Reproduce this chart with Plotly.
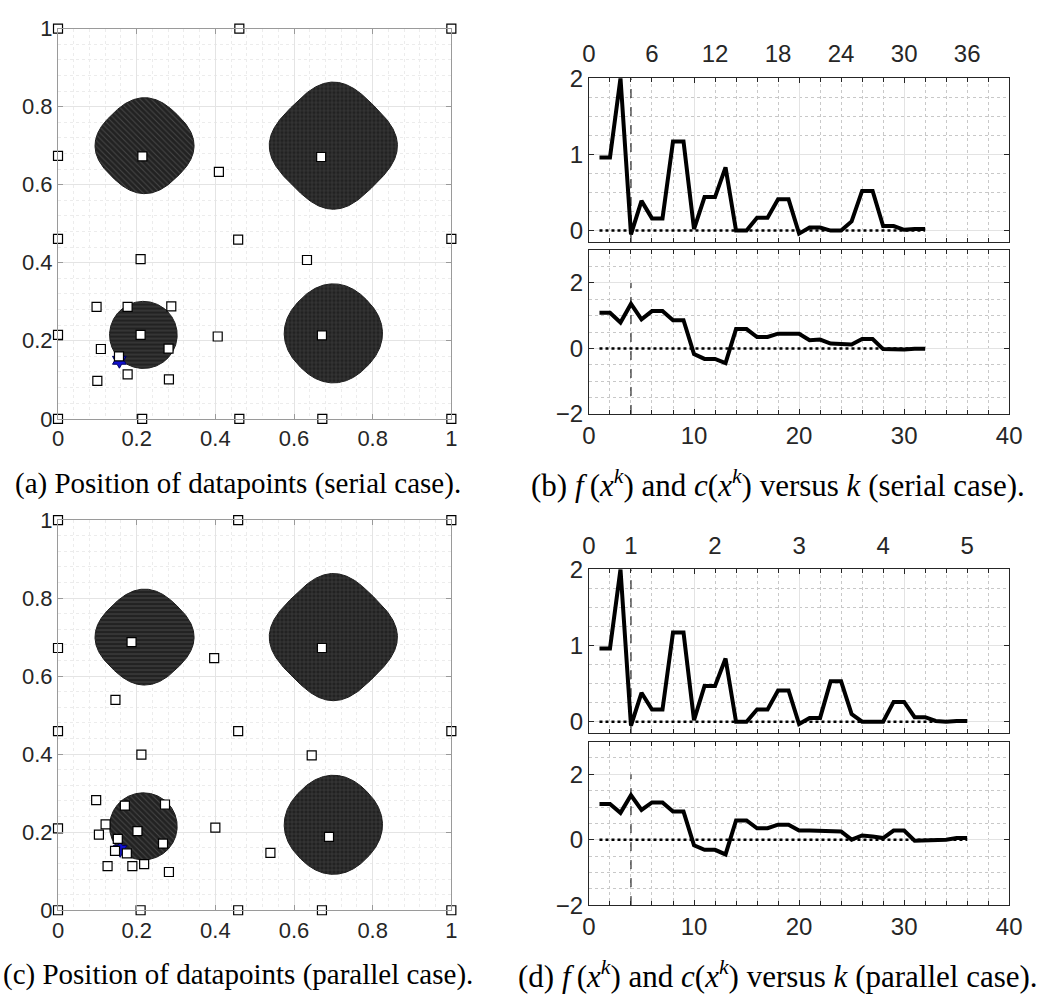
import numpy as np
import plotly.graph_objects as go

# ---------------- data ----------------
k_serial = list(range(1, 33))
f_serial = [0.96, 0.96, 2.0, -0.05, 0.39, 0.16, 0.16, 1.17, 1.17, 0.02, 0.44, 0.44, 0.83,
            0.0, 0.0, 0.17, 0.17, 0.41, 0.41, -0.04, 0.04, 0.04, 0.0, 0.0, 0.12, 0.52, 0.52,
            0.06, 0.06, 0.01, 0.02, 0.02]
c_serial = [1.09, 1.09, 0.79, 1.36, 0.89, 1.14, 1.14, 0.86, 0.86, -0.17, -0.32, -0.32, -0.45,
            0.59, 0.59, 0.35, 0.35, 0.45, 0.45, 0.45, 0.25, 0.27, 0.15, 0.13, 0.12, 0.29, 0.29,
            -0.02, -0.04, -0.03, -0.01, -0.01]

k_parallel = list(range(1, 37))
f_parallel = [0.96, 0.96, 2.0, -0.05, 0.38, 0.16, 0.16, 1.17, 1.17, 0.02, 0.47, 0.47, 0.83,
              0.0, 0.0, 0.16, 0.16, 0.41, 0.41, -0.03, 0.05, 0.05, 0.53, 0.53, 0.10, 0.0, 0.0,
              0.0, 0.26, 0.26, 0.06, 0.06, 0.01, 0.0, 0.01, 0.01]
c_parallel = [1.09, 1.09, 0.82, 1.36, 0.91, 1.14, 1.14, 0.86, 0.86, -0.17, -0.31, -0.31, -0.45,
              0.59, 0.59, 0.35, 0.35, 0.46, 0.46, 0.28, 0.28, 0.28, 0.25, 0.25, 0.0, 0.13, 0.10,
              0.05, 0.28, 0.28, -0.03, -0.03, -0.03, 0.0, 0.05, 0.05]

k_switch = 4  # dashed vertical line

top_ticks_serial = [0, 6, 12, 18, 24, 30, 36]
top_labels_serial = ["0", "6", "12", "18", "24", "30", "36"]
top_ticks_parallel = [0, 4, 12, 20, 28, 36]
top_labels_parallel = ["0", "1", "2", "3", "4", "5"]

serial_x = [0, 0.461, 1, 0, 0, 1, 0, 0, 0.214, 0.461, 0.672, 1,
            0.2145, 0.669, 0.409, 0.458, 0.210, 0.633, 0.098, 0.177, 0.288, 0.210, 0.406,
            0.671, 0.109, 0.281, 0.155, 0.177, 0.100, 0.282]
serial_y = [1, 1, 1, 0.674, 0.461, 0.461, 0.215, 0, 0, 0, 0, 0,
            0.6725, 0.671, 0.633, 0.459, 0.409, 0.407, 0.287, 0.287, 0.288, 0.215, 0.211,
            0.214, 0.179, 0.180, 0.160, 0.114, 0.097, 0.101]
serial_best = ([0.156], [0.150])

parallel_x = [0, 0.458, 1, 0, 0, 0.458, 1, 0, 0, 0.210, 0.458, 0.671, 1,
              0.187, 0.671, 0.397, 0.146, 0.212, 0.645, 0.097, 0.170, 0.272, 0.121, 0.400,
              0.104, 0.202, 0.152, 0.267, 0.145, 0.175, 0.540, 0.689, 0.126, 0.189, 0.219, 0.282]
parallel_y = [1, 1, 1, 0.672, 0.459, 0.459, 0.459, 0.210, 0, 0, 0, 0, 0,
              0.687, 0.672, 0.646, 0.539, 0.399, 0.397, 0.282, 0.268, 0.271, 0.220, 0.212,
              0.194, 0.203, 0.183, 0.171, 0.152, 0.146, 0.147, 0.188, 0.113, 0.113, 0.118, 0.098]
parallel_best = ([0.158], [0.156])

# infeasible regions (rounded diamonds = rotated superellipses)
shape_cx = [0.220, 0.700, 0.217, 0.700]
shape_cy = [0.700, 0.700, 0.215, 0.219]
shape_rx = [0.126, 0.163, 0.086, 0.125]
shape_ry = [0.123, 0.163, 0.086, 0.127]
shape_q = [2.6, 3.0, 2.0, 2.3]
patterns_a = ["\\", "+", "-", "+"]
patterns_c = ["-", "+", "\\", "+"]

# ---------------- layout helpers ----------------
W, H = 1047, 1005
def dx(a, b):
    return [a / W, b / W]
def dy(top, bot):
    return [1 - bot / H, 1 - top / H]

LEFTFONT = dict(family="Liberation Sans, Arial, Helvetica", size=22, color="#262626")
RIGHTFONT = dict(family="Liberation Sans, Arial, Helvetica", size=24, color="#262626")
DARK = "#262626"

fig = go.Figure()

# ---------------- left panels ----------------
t = np.linspace(0, 2 * np.pi, 600)

def add_point_panel(xa, ya, px, py, best, patterns):
    for cx, cy, rx, ry, q, pat in zip(shape_cx, shape_cy, shape_rx, shape_ry, shape_q, patterns):
        a = 1.0 / 2 ** (0.5 - 1.0 / q)
        c, s = np.cos(t), np.sin(t)
        u = a * np.sign(c) * np.abs(c) ** (2 / q)
        v = a * np.sign(s) * np.abs(s) ** (2 / q)
        xs = cx + rx * (u + v) / np.sqrt(2)
        ys = cy + ry * (u - v) / np.sqrt(2)
        fig.add_trace(go.Scatter(
            x=xs, y=ys, mode="lines", fill="toself",
            line=dict(color="#1e1e1e", width=1),
            fillcolor="#222222",
            fillpattern=dict(shape=pat, fgcolor="#474747", bgcolor="#222222",
                             size=4, solidity=0.25, fillmode="replace"),
            xaxis=xa, yaxis=ya, showlegend=False, hoverinfo="skip"))
    fig.add_trace(go.Scatter(
        x=best[0], y=best[1], mode="markers",
        marker=dict(symbol="hexagram", size=12, color="#1010d0",
                    line=dict(color="#000060", width=1)),
        xaxis=xa, yaxis=ya, showlegend=False, cliponaxis=False))
    fig.add_trace(go.Scatter(
        x=px, y=py, mode="markers",
        marker=dict(symbol="square", size=9, color="white",
                    line=dict(color="black", width=1.2)),
        xaxis=xa, yaxis=ya, showlegend=False, cliponaxis=False))

add_point_panel("x", "y", serial_x, serial_y, serial_best, patterns_a)
add_point_panel("x5", "y5", parallel_x, parallel_y, parallel_best, patterns_c)

def left_axis(domain, anchor):
    return dict(domain=domain, anchor=anchor, range=[0, 1], dtick=0.2, tick0=0,
                showline=True, linecolor="#9a9a9a", linewidth=1, mirror="ticks",
                ticks="inside", ticklen=5, tickcolor="#9a9a9a",
                showgrid=True, gridcolor="#e4e4e4", gridwidth=1, zeroline=False,
                tickfont=LEFTFONT,
                minor=dict(dtick=0.04, tick0=0, showgrid=True, gridcolor="#ececec",
                           griddash="dot", gridwidth=1, ticks=""))

# ---------------- right panels ----------------
TOP_RANGE = [-0.15, 2]
BOT_RANGE = [-2, 3]

def add_series_panel(xt, yt, xo, xb, yb, k, f, c):
    lw = 4
    fig.add_trace(go.Scatter(x=[k[0], k[-1]], y=[0, 0], mode="lines",
                             line=dict(color="black", width=2.5, dash="dot"),
                             xaxis=xt, yaxis=yt, showlegend=False, hoverinfo="skip"))
    fig.add_trace(go.Scatter(x=[k[0], k[-1]], y=[0, 0], mode="lines",
                             line=dict(color="black", width=2.5, dash="dot"),
                             xaxis=xb, yaxis=yb, showlegend=False, hoverinfo="skip"))
    fig.add_trace(go.Scatter(x=[k_switch, k_switch], y=[TOP_RANGE[0], TOP_RANGE[1]], mode="lines",
                             line=dict(color="black", width=1, dash="dash"),
                             xaxis=xt, yaxis=yt, showlegend=False, hoverinfo="skip"))
    fig.add_trace(go.Scatter(x=[k_switch, k_switch], y=[BOT_RANGE[0], 2], mode="lines",
                             line=dict(color="black", width=1, dash="dash"),
                             xaxis=xb, yaxis=yb, showlegend=False, hoverinfo="skip"))
    fig.add_trace(go.Scatter(x=k, y=f, mode="lines", line=dict(color="black", width=lw),
                             xaxis=xt, yaxis=yt, showlegend=False))
    fig.add_trace(go.Scatter(x=k, y=c, mode="lines", line=dict(color="black", width=lw),
                             xaxis=xb, yaxis=yb, showlegend=False))
    # invisible trace to materialize the top label axis
    fig.add_trace(go.Scatter(x=k, y=f, mode="markers", marker=dict(opacity=0),
                             xaxis=xo, yaxis=yt, showlegend=False, hoverinfo="skip"))

add_series_panel("x2", "y2", "x3", "x4", "y4", k_serial, f_serial, c_serial)
add_series_panel("x6", "y6", "x7", "x8", "y8", k_parallel, f_parallel, c_parallel)

RX = dx(593.3, 1021.7)

def right_x(anchor, labels):
    return dict(domain=RX, anchor=anchor, range=[0, 40], dtick=10, tick0=0,
                showline=True, linecolor=DARK, linewidth=1, mirror="ticks",
                ticks="inside", ticklen=5, tickcolor=DARK,
                showgrid=True, gridcolor="#e3e3e3", gridwidth=1.3, zeroline=False,
                showticklabels=labels, tickfont=RIGHTFONT,
                minor=dict(dtick=2, tick0=0, showgrid=True, gridcolor="#c8c8c8",
                           griddash="dot", gridwidth=1, ticks="inside", ticklen=4,
                           tickcolor=DARK))

def right_y(domain, anchor, rng, tickvals, minor):
    return dict(domain=domain, anchor=anchor, range=rng, tickvals=tickvals,
                showline=True, linecolor=DARK, linewidth=1, mirror="ticks",
                ticks="inside", ticklen=5, tickcolor=DARK,
                showgrid=True, gridcolor="#e3e3e3", gridwidth=1.3, zeroline=False,
                tickfont=RIGHTFONT,
                minor=dict(dtick=minor, tick0=0, showgrid=True, gridcolor="#c8c8c8",
                           griddash="dot", gridwidth=1, ticks=""))

def top_label_axis(overlay, anchor, vals, texts):
    return dict(overlaying=overlay, anchor=anchor, side="top", range=[0, 40],
                tickvals=vals, ticktext=texts, showline=False, showgrid=False,
                zeroline=False, ticks="", tickfont=RIGHTFONT, ticklabelstandoff=10)

fig.update_layout(
    width=W, height=H, margin=dict(l=0, r=0, t=0, b=0),
    paper_bgcolor="white", plot_bgcolor="white", showlegend=False,
    xaxis=left_axis(dx(52, 453), "y"),
    yaxis=left_axis(dy(15, 416), "x"),
    xaxis5=left_axis(dx(52, 453), "y5"),
    yaxis5=left_axis(dy(520, 921), "x5"),
    xaxis2=right_x("y2", False),
    yaxis2=right_y(dy(66, 234.3), "x2", TOP_RANGE, [0, 1, 2], 0.25),
    xaxis3=top_label_axis("x2", "y2", top_ticks_serial, top_labels_serial),
    xaxis4=right_x("y4", True),
    yaxis4=right_y(dy(242.7, 411), "x4", BOT_RANGE, [-2, 0, 2], 0.5),
    xaxis6=right_x("y6", False),
    yaxis6=right_y(dy(570.7, 739), "x6", TOP_RANGE, [0, 1, 2], 0.25),
    xaxis7=top_label_axis("x6", "y6", top_ticks_parallel, top_labels_parallel),
    xaxis8=right_x("y8", True),
    yaxis8=right_y(dy(747.7, 915.7), "x8", BOT_RANGE, [-2, 0, 2], 0.5),
)

CAP_A = dict(family="Liberation Serif, Times New Roman, serif", size=29, color="black")
CAP_B = dict(family="Liberation Serif, Times New Roman, serif", size=31, color="black")
captions = [
    (235, 482, "(a) Position of datapoints (serial case).", CAP_A),
    (786, 482, "(b) <i>f</i>\u2009(<i>x</i><sup><i>k</i></sup>) and <i>c</i>(<i>x</i><sup><i>k</i></sup>) versus <i>k</i> (serial case).", CAP_B),
    (235, 987, "(c) Position of datapoints (parallel case).", CAP_A),
    (786, 987, "(d) <i>f</i>\u2009(<i>x</i><sup><i>k</i></sup>) and <i>c</i>(<i>x</i><sup><i>k</i></sup>) versus <i>k</i> (parallel case).", CAP_B),
]
for cx, cy, txt, font in captions:
    fig.add_annotation(x=cx / W, y=1 - cy / H, xref="paper", yref="paper", text=txt,
                       showarrow=False, xanchor="center", yanchor="middle", font=font)

fig.write_html("out.html")
